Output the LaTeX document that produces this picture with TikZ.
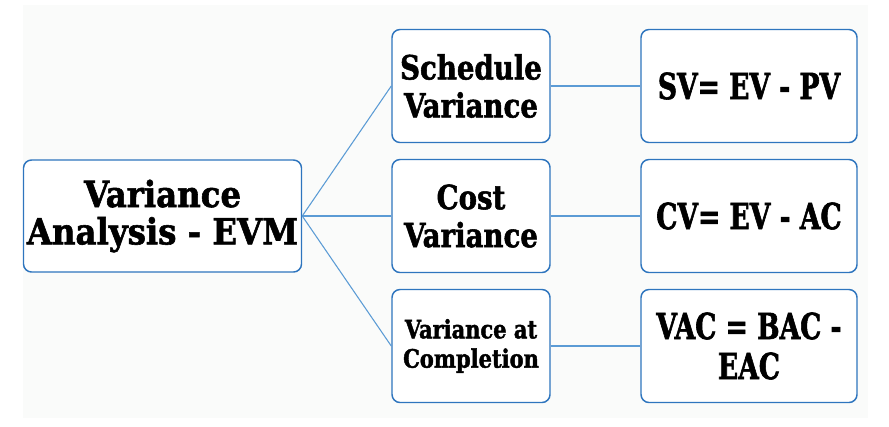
\documentclass[tikz,border=0pt]{standalone}
\usepackage{fontspec}
\setmainfont{DejaVu Serif Condensed}[BoldFeatures={FakeBold=1.6}]
\newfontfamily\narrowfont{DejaVu Serif Condensed}[BoldFeatures={FakeBold=1.6,FakeStretch=0.82}]
\newfontfamily\midfont{DejaVu Serif Condensed}[BoldFeatures={FakeBold=1.6,FakeStretch=0.92}]
\usepackage{tikz}
\definecolor{boxblue}{RGB}{46,117,190}
\definecolor{lineblue}{RGB}{91,155,213}
\definecolor{backgr}{RGB}{250,251,250}

\begin{document}
\begin{tikzpicture}[x=0.75pt,y=-0.75pt,
  box/.style={draw=boxblue,line width=1.1pt,rounded corners=6pt,fill=white,align=center,inner sep=0pt,minimum height=113*0.75pt},
  link/.style={lineblue,line width=0.8pt}]
\useasboundingbox (0,0) rectangle (889,426);
\fill[backgr] (23,5) rectangle (868,418);

\node[box,minimum width=278*0.75pt,minimum height=112*0.75pt,font=\bfseries\fontsize{27}{28}\selectfont] (evm) at (162.5,216) {Variance\\Analysis - EVM};

\node[box,minimum width=158*0.75pt,font=\midfont\bfseries\fontsize{25}{28.5}\selectfont] (sv) at (471,86) {Schedule\\Variance};
\node[box,minimum width=158*0.75pt,font=\midfont\bfseries\fontsize{25}{28.5}\selectfont] (cv) at (471,216) {Cost\\Variance};
\node[box,minimum width=158*0.75pt,font=\midfont\bfseries\fontsize{19}{22}\selectfont] (vac) at (471,346) {Variance at\\Completion};

\node[box,minimum width=216*0.75pt,font=\narrowfont\bfseries\fontsize{27}{28}\selectfont] (svf) at (749,86) {SV= EV - PV};
\node[box,minimum width=216*0.75pt,font=\narrowfont\bfseries\fontsize{27}{28}\selectfont] (cvf) at (749,216) {CV= EV - AC};
\node[box,minimum width=216*0.75pt,font=\narrowfont\bfseries\fontsize{27}{30}\selectfont] (vacf) at (749,346) {VAC = BAC -\\EAC};

\foreach \m/\r in {sv/svf,cv/cvf,vac/vacf}{
  \draw[link] (evm.east) -- (\m.west);
  \draw[link] (\m.east) -- (\r.west);
}
\end{tikzpicture}
\end{document}
